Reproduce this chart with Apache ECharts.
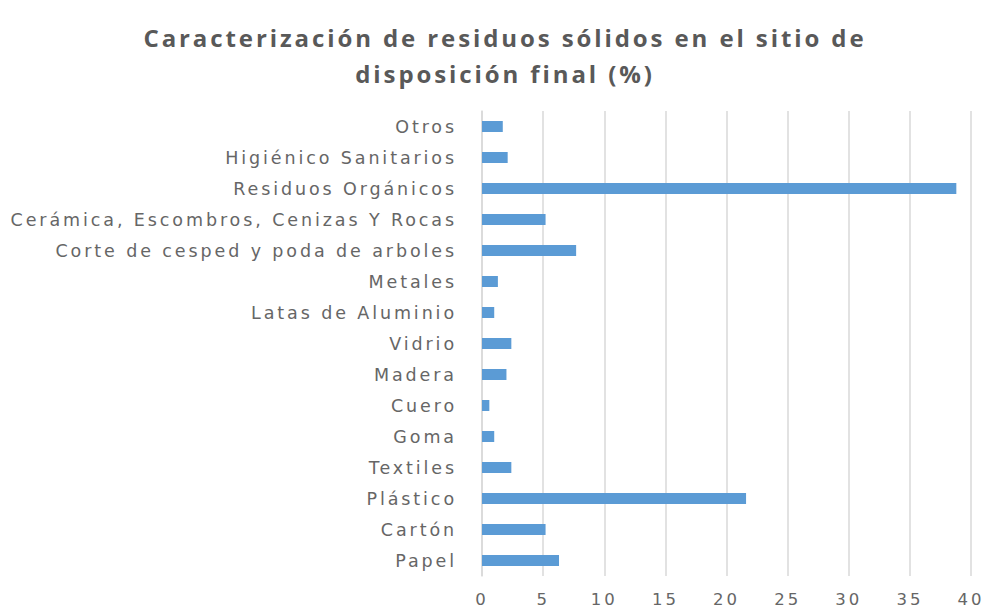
<!DOCTYPE html>
<html><head><meta charset="utf-8">
<script src="https://cdn.jsdelivr.net/npm/echarts@6/dist/echarts.min.js"></script>
<style>html,body{margin:0;padding:0;background:#fff}#c{width:988px;height:613px}
#c svg text{letter-spacing:2.9px}</style>
</head><body><div id="c"></div>
<script>
const categories = ["Papel","Cartón","Plástico","Textiles","Goma","Cuero","Madera","Vidrio","Latas de Aluminio","Metales","Corte de cesped y poda de arboles","Cerámica, Escombros, Cenizas Y Rocas","Residuos Orgánicos","Higiénico Sanitarios","Otros"];
const values = [6.3,5.2,21.6,2.4,1.0,0.6,2.0,2.4,1.0,1.3,7.7,5.2,38.8,2.1,1.7];
const xTicks = [0,5,10,15,20,25,30,35,40];
const titleText = "Caracterización de residuos sólidos en el sitio de\ndisposición final (%)";
const chart = echarts.init(document.getElementById('c'), null, {renderer:'svg'});
chart.setOption({
  animation:false,
  graphic:[{type:'text',x:505,y:19,style:{text:titleText,fontFamily:'Open Sans',fontWeight:'bold',fontSize:24,fill:'#595959',lineHeight:36,align:'center',verticalAlign:'top'}}],
  grid:{left:482,right:17,top:111,bottom:37},
  xAxis:{type:'value',min:xTicks[0],max:xTicks[xTicks.length-1],interval:xTicks[1]-xTicks[0],
    axisLine:{show:false},axisTick:{show:false},
    splitLine:{lineStyle:{color:'#d9d9d9',width:1.5}},
    axisLabel:{color:'#666666',fontSize:16.5,fontFamily:'DejaVu Sans',margin:15}},
  yAxis:{type:'category',data:categories,
    axisLine:{lineStyle:{color:'#d9d9d9',width:1.5}},axisTick:{show:false},
    axisLabel:{color:'#666666',fontSize:17.5,fontFamily:'DejaVu Sans',margin:25}},
  series:[{type:'bar',data:values,barWidth:11,itemStyle:{color:'#5b9bd5'}}]
});
</script></body></html>
